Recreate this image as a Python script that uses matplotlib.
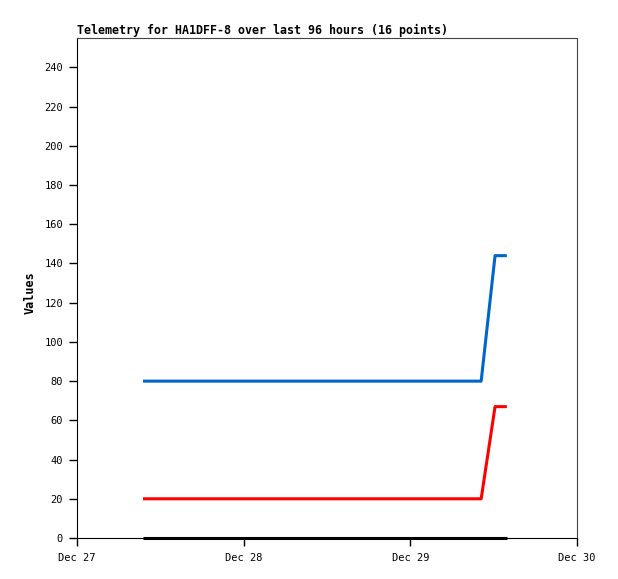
import matplotlib
matplotlib.use("Agg")
import matplotlib.pyplot as plt
import matplotlib.dates as mdates
from datetime import datetime, timedelta

# telemetry samples: hours after Dec 27 00:00
base = datetime(2023, 12, 27)
hours = [9.5, 13.0, 16.5, 20.0, 24.0, 28.0, 32.0, 36.0, 40.0, 44.0,
         48.0, 52.0, 55.5, 58.2, 60.2, 61.9]
ch_blue = [80, 80, 80, 80, 80, 80, 80, 80, 80, 80, 80, 80, 80, 80, 144, 144]
ch_red = [20, 20, 20, 20, 20, 20, 20, 20, 20, 20, 20, 20, 20, 20, 67, 67]
ch_black = [0] * 16
yticks = [0, 20, 40, 60, 80, 100, 120, 140, 160, 180, 200, 220, 240]

times = [base + timedelta(hours=h) for h in hours]

plt.rcParams["font.family"] = ["DejaVu Sans Mono"]
fig = plt.figure(figsize=(6.18, 5.79), dpi=100)
ax = fig.add_axes([77 / 618, 41 / 579, 500 / 618, 500 / 579])

ax.plot(times, ch_black, color="black", lw=2.2, solid_capstyle="butt",
        clip_on=False, zorder=3)
ax.plot(times, ch_red, color="#ff0000", lw=2.2, solid_capstyle="butt")
ax.plot(times, ch_blue, color="#0066cc", lw=2.2, solid_capstyle="butt")

ax.set_xlim(base, base + timedelta(days=3))
ax.set_ylim(0, 255)
ax.set_yticks(yticks)
ax.xaxis.set_major_locator(mdates.DayLocator())
ax.xaxis.set_major_formatter(mdates.DateFormatter("%b %d"))
ax.tick_params(axis="both", direction="out", length=6, width=1,
               labelsize=7.5, pad=4)
ax.tick_params(axis="x", pad=5)

for s in ("top", "right"):
    ax.spines[s].set_color("#444444")
for s in ("left", "bottom"):
    ax.spines[s].set_color("black")

ax.set_ylabel("Values", fontsize=8.5, fontweight="bold")
ax.yaxis.set_label_coords(-0.08, 0.49)
ax.set_title("Telemetry for HA1DFF-8 over last 96 hours (16 points)",
             fontsize=8.4, fontweight="bold", loc="left", pad=3)

fig.savefig("out.png", dpi=100)
